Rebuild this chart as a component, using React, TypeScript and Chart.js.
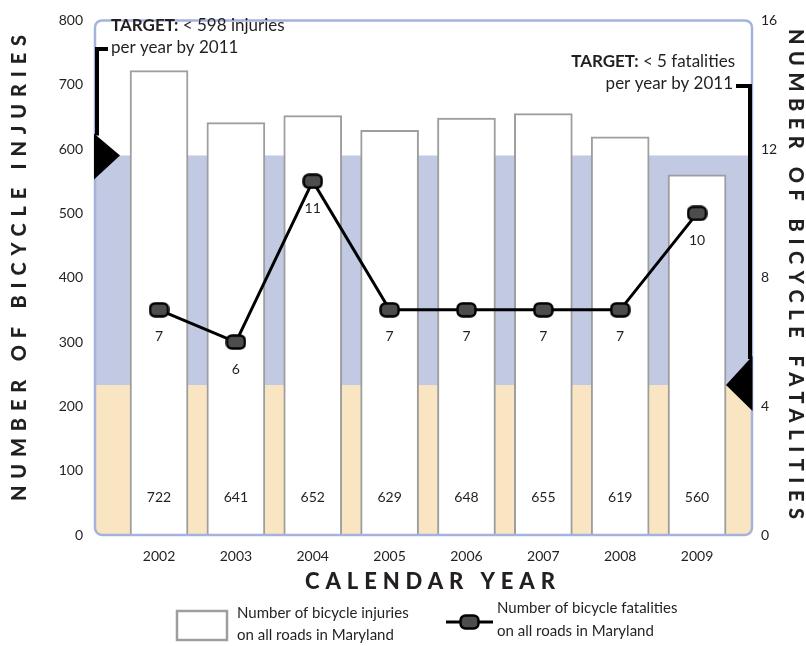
import React, { useEffect, useRef } from "react";
import { Chart, registerables } from "chart.js";

Chart.register(...registerables);

// ---------- data ----------
const YEARS = ["2002", "2003", "2004", "2005", "2006", "2007", "2008", "2009"];
const INJURIES = [722, 641, 652, 629, 648, 655, 619, 560];
const FATALITIES = [7, 6, 11, 7, 7, 7, 7, 10];
const INJURY_TICKS = [0, 100, 200, 300, 400, 500, 600, 700, 800];
const FATALITY_TICKS = [0, 4, 8, 12, 16];
// band boundaries on the injury axis: yellow below the first, blue up to the second
const BANDS = [233, 590];
const INJURY_LEGEND = ["Number of bicycle injuries", "on all roads in Maryland"];
const FATALITY_LEGEND = ["Number of bicycle fatalities", "on all roads in Maryland"];
const TARGET_INJURY = ["TARGET:", " < 598 injuries", "per year by 2011"];
const TARGET_FATALITY = ["TARGET:", " < 5 fatalities", "per year by 2011"];
const LEFT_TITLE = "NUMBER OF BICYCLE INJURIES";
const RIGHT_TITLE = "NUMBER OF BICYCLE FATALITIES";
const X_TITLE = "CALENDAR YEAR";

// ---------- style ----------
const FONT = "Lato, 'Open Sans', sans-serif";
const INK = "#231f20";
const BLUE = "#c1c9e3";
const YELLOW = "#fae5c3";
const FRAME = "#a5b3dc";
const BAR_EDGE = "#9e9e9e";
const MARKER_FILL = "#4d4d4d";

function makeMarker(): HTMLCanvasElement {
  const c = document.createElement("canvas");
  c.width = 21;
  c.height = 16;
  const g = c.getContext("2d")!;
  g.beginPath();
  (g as any).roundRect(1.5, 1.5, 18, 13, 5);
  g.fillStyle = MARKER_FILL;
  g.fill();
  g.lineWidth = 2.5;
  g.strokeStyle = "#000";
  g.stroke();
  return c;
}

function spaced(ctx: any, text: string, x: number, y: number, length: number, font: string) {
  ctx.font = font;
  ctx.letterSpacing = "0px";
  const w = ctx.measureText(text).width;
  const s = (length - w) / (text.length - 1);
  ctx.letterSpacing = s + "px";
  ctx.textAlign = "left";
  ctx.textBaseline = "middle";
  ctx.fillText(text, x, y);
  ctx.letterSpacing = "0px";
}

const decor = {
  id: "decor",
  beforeDatasetsDraw(chart: any) {
    const { ctx, chartArea: a, scales } = chart;
    const y = scales.y;
    ctx.save();
    ctx.beginPath();
    ctx.roundRect(a.left, a.top, a.right - a.left, a.bottom - a.top, 7);
    ctx.fillStyle = "#fff";
    ctx.fill();
    ctx.clip();
    const ySplit = y.getPixelForValue(BANDS[0]);
    const yTop = y.getPixelForValue(BANDS[1]);
    ctx.fillStyle = YELLOW;
    ctx.fillRect(a.left, ySplit, a.right - a.left, a.bottom - ySplit);
    ctx.fillStyle = BLUE;
    ctx.fillRect(a.left, yTop, a.right - a.left, ySplit - yTop);
    ctx.restore();
  },
  afterDatasetsDraw(chart: any) {
    const { ctx, chartArea: a, scales } = chart;
    const y = scales.y;
    ctx.save();
    // frame
    ctx.beginPath();
    ctx.roundRect(a.left, a.top, a.right - a.left, a.bottom - a.top, 7);
    ctx.lineWidth = 2.5;
    ctx.strokeStyle = FRAME;
    ctx.stroke();

    // bar value labels
    ctx.fillStyle = INK;
    ctx.font = `14px ${FONT}`;
    ctx.textAlign = "center";
    ctx.textBaseline = "middle";
    const bars = chart.getDatasetMeta(0).data;
    bars.forEach((el: any, i: number) => {
      ctx.fillText(String(INJURIES[i]), el.x, a.bottom - 38);
    });
    // point value labels
    const pts = chart.getDatasetMeta(1).data;
    pts.forEach((el: any, i: number) => {
      ctx.fillText(String(FATALITIES[i]), el.x, el.y + 27);
    });

    // left target annotation
    const tipL = y.getPixelForValue(BANDS[1]);
    ctx.textAlign = "left";
    ctx.textBaseline = "alphabetic";
    ctx.font = `bold 17px ${FONT}`;
    ctx.fillText(TARGET_INJURY[0], a.left + 16, 31);
    const wl = ctx.measureText(TARGET_INJURY[0]).width;
    ctx.font = `17px ${FONT}`;
    ctx.fillText(TARGET_INJURY[1], a.left + 16 + wl, 31);
    ctx.fillText(TARGET_INJURY[2], a.left + 16, 53);
    ctx.strokeStyle = "#000";
    ctx.lineWidth = 4;
    ctx.beginPath();
    ctx.moveTo(a.left + 13, 49);
    ctx.lineTo(a.left + 2, 49);
    ctx.lineTo(a.left + 2, tipL - 20);
    ctx.stroke();
    ctx.fillStyle = "#000";
    ctx.beginPath();
    ctx.moveTo(a.left - 1, tipL - 22);
    ctx.lineTo(a.left + 25, tipL);
    ctx.lineTo(a.left - 1, tipL + 24);
    ctx.closePath();
    ctx.fill();

    // right target annotation
    const tipR = y.getPixelForValue(BANDS[0]);
    ctx.fillStyle = INK;
    ctx.textAlign = "right";
    ctx.font = `17px ${FONT}`;
    const wr = ctx.measureText(TARGET_FATALITY[1]).width;
    ctx.fillText(TARGET_FATALITY[1], a.right - 17, 67);
    ctx.font = `bold 17px ${FONT}`;
    ctx.fillText(TARGET_FATALITY[0], a.right - 17 - wr, 67);
    ctx.font = `17px ${FONT}`;
    ctx.fillText(TARGET_FATALITY[2], a.right - 19, 89);
    ctx.strokeStyle = "#000";
    ctx.lineWidth = 4;
    ctx.beginPath();
    ctx.moveTo(a.right - 16, 86);
    ctx.lineTo(a.right - 2, 86);
    ctx.lineTo(a.right - 2, tipR - 26);
    ctx.stroke();
    ctx.fillStyle = "#000";
    ctx.beginPath();
    ctx.moveTo(a.right + 0.5, tipR - 29);
    ctx.lineTo(a.right - 26, tipR);
    ctx.lineTo(a.right + 0.5, tipR + 26);
    ctx.closePath();
    ctx.fill();
    ctx.restore();
  },
  afterDraw(chart: any) {
    const { ctx, chartArea: a } = chart;
    ctx.save();
    ctx.fillStyle = INK;
    // left title
    ctx.save();
    ctx.translate(20, 268);
    ctx.rotate(-Math.PI / 2);
    spaced(ctx, LEFT_TITLE, -233, 0, 466, `900 20px ${FONT}`);
    ctx.restore();
    // right title
    ctx.save();
    ctx.translate(795, 274);
    ctx.rotate(Math.PI / 2);
    spaced(ctx, RIGHT_TITLE, -245, 0, 490, `900 20px ${FONT}`);
    ctx.restore();
    // x title
    spaced(ctx, X_TITLE, 305, a.bottom + 47, 250, `900 22px ${FONT}`);

    // legend: injuries
    ctx.fillStyle = "#fff";
    ctx.fillRect(177, 611, 50, 29);
    ctx.strokeStyle = BAR_EDGE;
    ctx.lineWidth = 2.5;
    ctx.strokeRect(177, 611, 50, 29);
    ctx.fillStyle = INK;
    ctx.font = `15px ${FONT}`;
    ctx.textAlign = "left";
    ctx.textBaseline = "alphabetic";
    ctx.fillText(INJURY_LEGEND[0], 237, 618);
    ctx.fillText(INJURY_LEGEND[1], 237, 640);
    // legend: fatalities
    ctx.strokeStyle = "#000";
    ctx.lineWidth = 3;
    ctx.beginPath();
    ctx.moveTo(446, 622);
    ctx.lineTo(493, 622);
    ctx.stroke();
    const m = makeMarker();
    ctx.drawImage(m, 469.5 - m.width / 2, 622 - m.height / 2);
    ctx.fillStyle = INK;
    ctx.fillText(FATALITY_LEGEND[0], 497, 613);
    ctx.fillText(FATALITY_LEGEND[1], 497, 636);
    ctx.restore();
  },
};

export default function App() {
  const ref = useRef<HTMLCanvasElement | null>(null);
  useEffect(() => {
    if (!ref.current) return;
    const marker = makeMarker();
    const chart = new Chart(ref.current, {
      type: "bar",
      data: {
        datasets: [
          {
            type: "bar",
            label: INJURY_LEGEND.join(" "),
            data: INJURIES.map((v, i) => ({ x: i, y: v })),
            backgroundColor: "#ffffff",
            borderColor: BAR_EDGE,
            borderWidth: 2,
            borderSkipped: "bottom",
            barThickness: 58,
            yAxisID: "y",
            order: 2,
          } as any,
          {
            type: "line",
            label: FATALITY_LEGEND.join(" "),
            data: FATALITIES.map((v, i) => ({ x: i, y: v })),
            borderColor: "#000",
            borderWidth: 3,
            tension: 0,
            pointStyle: marker,
            pointRadius: 9,
            yAxisID: "y1",
            order: 1,
          } as any,
        ],
      },
      options: {
        responsive: false,
        animation: false,
        devicePixelRatio: 1,
        layout: { padding: { top: 8, left: 0, right: 0, bottom: 0 } },
        plugins: {
          legend: { display: false },
          tooltip: { enabled: false },
        },
        scales: {
          x: {
            type: "linear",
            offset: false,
            min: -0.833,
            max: YEARS.length - 1 + 0.715,
            grid: { display: false, drawTicks: false, offset: false },
            border: { display: false },
            ticks: {
              stepSize: 1,
              includeBounds: false,
              autoSkip: false,
              maxRotation: 0,
              padding: 13,
              color: INK,
              font: { family: FONT, size: 14 },
              callback: (v: any) => (Number.isInteger(v) && YEARS[v] ? YEARS[v] : ""),
            },
            afterFit: (s: any) => {
              s.height = 111;
            },
          } as any,
          y: {
            type: "linear",
            position: "left",
            min: INJURY_TICKS[0],
            max: INJURY_TICKS[INJURY_TICKS.length - 1],
            grid: { display: false, drawTicks: false },
            border: { display: false },
            ticks: {
              stepSize: INJURY_TICKS[1] - INJURY_TICKS[0],
              padding: 12,
              color: INK,
              font: { family: FONT, size: 14 },
            },
            afterFit: (s: any) => {
              s.width = 95;
            },
          } as any,
          y1: {
            type: "linear",
            position: "right",
            min: FATALITY_TICKS[0],
            max: FATALITY_TICKS[FATALITY_TICKS.length - 1],
            grid: { display: false, drawTicks: false },
            border: { display: false },
            ticks: {
              stepSize: FATALITY_TICKS[1] - FATALITY_TICKS[0],
              padding: 9,
              color: INK,
              font: { family: FONT, size: 14 },
            },
            afterFit: (s: any) => {
              s.width = 54;
            },
          } as any,
        },
      },
      plugins: [decor],
    });
    return () => chart.destroy();
  }, []);

  return (
    <div style={{ position: "absolute", left: 0, top: 0, width: 806, height: 646, background: "#fff" }}>
      <canvas ref={ref} width={806} height={646} style={{ display: "block", width: 806, height: 646 }} />
    </div>
  );
}
